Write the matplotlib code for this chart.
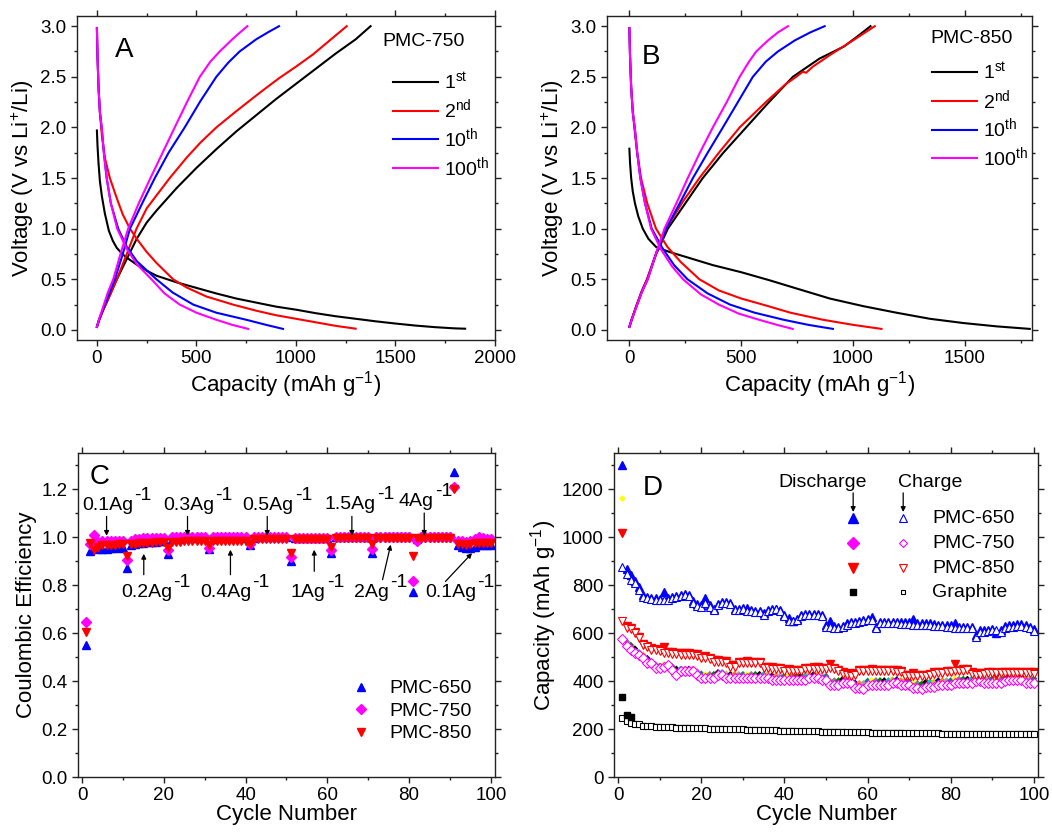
import matplotlib
matplotlib.use("Agg")
import matplotlib.pyplot as plt
from matplotlib.ticker import MultipleLocator
from matplotlib.lines import Line2D

plt.rcParams['font.family'] = ['Liberation Sans', 'DejaVu Sans']
plt.rcParams['mathtext.fontset'] = 'custom'
plt.rcParams['mathtext.rm'] = 'Liberation Sans'
plt.rcParams['mathtext.it'] = 'Liberation Sans:italic'
plt.rcParams['mathtext.default'] = 'regular'

# ---------------- Panel A (PMC-750) ----------------
a1_dis_x = [0, 3, 8, 15, 25, 40, 60, 80, 100, 130, 160, 200, 250, 300, 400, 500, 600, 700, 800, 900, 1000, 1100, 1200, 1300, 1400, 1500, 1600, 1700, 1800, 1850]
a1_dis_y = [1.97, 1.82, 1.65, 1.47, 1.32, 1.15, 0.98, 0.88, 0.81, 0.745, 0.70, 0.645, 0.585, 0.535, 0.47, 0.415, 0.36, 0.31, 0.27, 0.23, 0.20, 0.165, 0.135, 0.11, 0.085, 0.063, 0.043, 0.027, 0.015, 0.012]
a1_chg_x = [0, 10, 30, 60, 100, 150, 200, 250, 300, 400, 500, 600, 700, 800, 900, 1000, 1100, 1200, 1300, 1375]
a1_chg_y = [0.03, 0.09, 0.19, 0.32, 0.50, 0.70, 0.90, 1.06, 1.18, 1.40, 1.60, 1.785, 1.96, 2.12, 2.28, 2.43, 2.58, 2.73, 2.87, 3.0]
a2_dis_x = [0, 3, 8, 15, 25, 40, 65, 100, 130, 166, 200, 250, 300, 383, 450, 550, 684, 800, 900, 1000, 1100, 1200, 1300]
a2_dis_y = [2.98, 2.7, 2.4, 2.15, 1.92, 1.7, 1.5, 1.3, 1.14, 1.0, 0.9, 0.77, 0.66, 0.5, 0.42, 0.33, 0.25, 0.19, 0.145, 0.11, 0.075, 0.04, 0.012]
a2_chg_x = [0, 10, 30, 60, 100, 150, 199, 250, 300, 366, 450, 520, 600, 700, 784, 850, 918, 1000, 1085, 1170, 1255]
a2_chg_y = [0.03, 0.09, 0.19, 0.32, 0.5, 0.75, 1.0, 1.2, 1.33, 1.5, 1.7, 1.85, 2.0, 2.16, 2.29, 2.39, 2.49, 2.6, 2.72, 2.86, 3.0]
a10_dis_x = [0, 3, 8, 15, 24, 35, 49, 70, 107, 150, 200, 299, 380, 484, 600, 751, 850, 935]
a10_dis_y = [2.98, 2.7, 2.4, 2.15, 2.0, 1.75, 1.5, 1.25, 1.0, 0.82, 0.68, 0.5, 0.37, 0.25, 0.17, 0.1, 0.05, 0.01]
a10_chg_x = [0, 10, 30, 60, 90, 130, 166, 230, 291, 360, 441, 520, 600, 660, 717, 800, 860, 915]
a10_chg_y = [0.03, 0.1, 0.2, 0.35, 0.5, 0.75, 1.0, 1.26, 1.5, 1.75, 2.0, 2.26, 2.5, 2.64, 2.75, 2.87, 2.94, 3.0]
a100_dis_x = [0, 3, 8, 15, 24, 35, 49, 70, 102, 150, 200, 274, 340, 416, 500, 600, 680, 760]
a100_dis_y = [2.98, 2.7, 2.4, 2.15, 2.0, 1.75, 1.5, 1.25, 1.0, 0.8, 0.65, 0.5, 0.36, 0.25, 0.17, 0.1, 0.05, 0.01]
a100_chg_x = [0, 10, 30, 55, 82, 120, 157, 210, 269, 330, 391, 455, 517, 570, 617, 680, 720, 756]
a100_chg_y = [0.03, 0.1, 0.22, 0.37, 0.5, 0.76, 1.0, 1.25, 1.5, 1.75, 2.0, 2.26, 2.5, 2.65, 2.75, 2.87, 2.94, 3.0]

# ---------------- Panel B (PMC-850) ----------------
b1_dis_x = [0, 3, 8, 15, 25, 40, 60, 85, 119, 179, 254, 373, 500, 627, 746, 896, 1045, 1194, 1343, 1493, 1642, 1790]
b1_dis_y = [1.79, 1.65, 1.5, 1.37, 1.25, 1.12, 1.0, 0.9, 0.82, 0.77, 0.72, 0.64, 0.57, 0.49, 0.41, 0.31, 0.235, 0.17, 0.11, 0.068, 0.035, 0.01]
b1_chg_x = [0, 10, 30, 55, 79, 120, 172, 250, 328, 420, 522, 620, 731, 850, 960, 1020, 1078]
b1_chg_y = [0.03, 0.1, 0.23, 0.38, 0.5, 0.75, 1.0, 1.25, 1.5, 1.75, 2.0, 2.24, 2.5, 2.68, 2.8, 2.9, 3.0]
b2_dis_x = [0, 3, 8, 14, 22, 35, 52, 80, 119, 170, 230, 313, 400, 500, 597, 720, 866, 1000, 1127]
b2_dis_y = [2.98, 2.7, 2.4, 2.2, 2.0, 1.75, 1.5, 1.25, 1.0, 0.82, 0.67, 0.5, 0.39, 0.31, 0.25, 0.17, 0.1, 0.05, 0.01]
b2_chg_x = [0, 10, 30, 55, 79, 120, 164, 240, 313, 400, 493, 610, 700, 746, 775, 790, 820, 900, 1000, 1097]
b2_chg_y = [0.03, 0.1, 0.23, 0.38, 0.5, 0.76, 1.0, 1.27, 1.5, 1.75, 2.0, 2.25, 2.43, 2.5, 2.55, 2.54, 2.6, 2.72, 2.86, 3.0]
b10_dis_x = [0, 3, 8, 15, 24, 35, 49, 70, 100, 150, 200, 260, 350, 450, 560, 690, 800, 910]
b10_dis_y = [2.98, 2.7, 2.4, 2.15, 2.0, 1.75, 1.5, 1.25, 1.0, 0.8, 0.64, 0.5, 0.36, 0.25, 0.17, 0.1, 0.05, 0.01]
b10_chg_x = [0, 10, 30, 55, 82, 120, 164, 225, 284, 350, 418, 485, 552, 610, 664, 740, 810, 873]
b10_chg_y = [0.03, 0.1, 0.22, 0.37, 0.5, 0.76, 1.0, 1.25, 1.5, 1.75, 2.0, 2.25, 2.5, 2.65, 2.75, 2.86, 2.94, 3.0]
b100_dis_x = [0, 3, 8, 15, 24, 35, 49, 70, 97, 140, 190, 240, 320, 400, 490, 580, 660, 730]
b100_dis_y = [2.98, 2.7, 2.4, 2.15, 2.0, 1.75, 1.5, 1.25, 1.0, 0.8, 0.63, 0.5, 0.35, 0.25, 0.16, 0.1, 0.05, 0.01]
b100_chg_x = [0, 10, 30, 55, 82, 120, 157, 210, 261, 315, 373, 435, 493, 535, 567, 620, 665, 709]
b100_chg_y = [0.03, 0.1, 0.22, 0.37, 0.5, 0.76, 1.0, 1.25, 1.5, 1.75, 2.0, 2.25, 2.5, 2.65, 2.75, 2.86, 2.94, 3.0]

cycle_labels = ['1$^{st}$', '2$^{nd}$', '10$^{th}$', '100$^{th}$']
cycle_colors = ['black', '#ff0000', '#0000ff', '#ff00ff']

# ---------------- Panel C (Coulombic efficiency) ----------------
cycles = list(range(1, 101))
ce_650 = [0.55, 0.94, 0.955, 0.95, 0.95, 0.95, 0.955, 0.955, 0.96, 0.955,
          0.87, 0.965, 0.97, 0.975, 0.975, 0.98, 0.98, 0.98, 0.985, 0.985,
          0.93, 0.99, 0.99, 0.99, 0.995, 0.995, 0.995, 0.995, 0.995, 0.995,
          0.95, 0.99, 0.995, 0.995, 0.995, 0.995, 0.995, 0.995, 0.995, 0.995,
          0.965, 0.995, 1.0, 1.0, 1.0, 1.0, 1.0, 1.0, 1.0, 1.0,
          0.90, 0.995, 0.995, 0.995, 0.995, 0.995, 0.995, 0.995, 0.995, 0.995,
          0.935, 1.0, 1.0, 1.005, 1.0, 1.005, 1.0, 1.005, 1.0, 1.0,
          0.935, 1.005, 1.005, 1.005, 1.005, 1.005, 1.005, 1.005, 1.005, 1.005,
          0.77, 0.99, 1.005, 1.005, 1.005, 1.005, 1.005, 1.005, 1.005, 1.005,
          1.27, 0.965, 0.96, 0.955, 0.955, 0.96, 0.965, 0.965, 0.965, 0.965]
ce_750 = [0.645, 0.97, 1.01, 0.98, 0.985, 0.985, 0.985, 0.985, 0.985, 0.985,
          0.905, 0.985, 0.99, 0.99, 0.995, 0.995, 0.995, 0.995, 0.995, 0.995,
          0.945, 1.0, 1.0, 1.0, 1.0, 1.0, 1.0, 1.0, 1.0, 1.0,
          0.955, 1.0, 1.0, 1.0, 1.0, 1.0, 1.0, 1.0, 1.0, 1.0,
          0.97, 1.0, 1.0, 1.0, 1.0, 1.0, 1.0, 1.0, 1.0, 1.0,
          0.915, 0.995, 0.995, 0.995, 0.995, 0.995, 0.995, 0.995, 0.995, 0.995,
          0.945, 1.0, 1.0, 1.0, 1.0, 1.0, 1.0, 1.0, 1.0, 1.0,
          0.95, 1.0, 1.0, 1.0, 1.0, 1.0, 1.0, 1.0, 1.0, 1.0,
          0.815, 0.985, 1.0, 1.0, 1.0, 1.0, 1.0, 1.0, 1.0, 1.0,
          1.21, 0.985, 0.985, 0.98, 0.985, 0.99, 1.0, 0.995, 0.99, 0.99]
ce_850 = [0.605, 0.975, 0.945, 0.96, 0.965, 0.965, 0.965, 0.965, 0.97, 0.97,
          0.92, 0.97, 0.97, 0.975, 0.975, 0.975, 0.975, 0.98, 0.98, 0.98,
          0.955, 0.98, 0.98, 0.98, 0.985, 0.985, 0.985, 0.985, 0.985, 0.985,
          0.965, 0.985, 0.985, 0.985, 0.985, 0.985, 0.985, 0.985, 0.985, 0.985,
          0.97, 0.99, 0.99, 0.99, 0.99, 0.99, 0.99, 0.99, 0.99, 0.99,
          0.935, 0.99, 0.99, 0.99, 0.99, 0.99, 0.99, 0.99, 0.99, 0.99,
          0.96, 0.995, 0.995, 0.995, 0.995, 0.995, 0.995, 0.995, 0.995, 0.995,
          0.97, 0.995, 0.995, 0.995, 0.995, 0.995, 0.995, 0.995, 0.995, 0.995,
          0.92, 0.995, 0.995, 0.995, 0.995, 0.995, 0.995, 0.995, 0.995, 0.995,
          1.20, 0.97, 0.97, 0.965, 0.97, 0.975, 0.975, 0.975, 0.975, 0.975]

rate_top_labels = ['0.1Ag', '0.3Ag', '0.5Ag', '1.5Ag', '4Ag']
rate_top_pos = [(0.0, 1.13), (19.8, 1.13), (39.3, 1.13), (59.3, 1.134), (77.4, 1.148)]
rate_top_arrows = [(6.0, 1.086, 6.0, 1.005), (25.8, 1.086, 25.8, 1.005), (45.3, 1.086, 45.3, 1.005),
                   (66.0, 1.086, 66.0, 1.005), (83.7, 1.10, 83.7, 1.005)]
rate_bot_labels = ['0.2Ag', '0.4Ag', '1Ag', '2Ag', '0.1Ag']
rate_bot_pos = [(9.5, 0.767), (28.8, 0.767), (51.1, 0.767), (66.6, 0.767), (83.9, 0.767)]
rate_bot_arrows = [(15.1, 0.843, 15.1, 0.93), (36.3, 0.843, 36.3, 0.947), (56.8, 0.857, 56.8, 0.947),
                   (73.5, 0.822, 75.5, 0.968), (88.9, 0.815, 95.4, 0.933)]

# ---------------- Panel D (cycling capacity) ----------------
c650 = [877, 846, 821, 807, 780, 752, 745, 740, 738, 738,
        736, 738, 745, 750, 755, 758, 756, 724, 712, 708,
        727, 710, 696, 717, 724, 724, 720, 696, 696, 700,
        690, 690, 688, 686, 676, 692, 696, 698, 690, 669,
        648, 648, 655, 670, 676, 676, 676, 676, 672, 627,
        625, 622, 620, 625, 635, 641, 641, 645, 650, 655,
        655, 620, 641, 641, 641, 641, 641, 638, 638, 638,
        634, 634, 634, 634, 634, 630, 628, 628, 625, 625,
        620, 620, 620, 620, 620, 585, 606, 606, 608, 613,
        613, 606, 622, 627, 627, 630, 630, 627, 620, 610]
d650 = [1300, 868, 840, 815, 790, 760, 752, 746, 744, 742,
        770, 745, 750, 756, 760, 762, 760, 735, 720, 715,
        745, 716, 702, 720, 728, 728, 724, 702, 700, 704,
        705, 695, 692, 690, 682, 696, 700, 702, 696, 675,
        662, 652, 660, 674, 680, 680, 680, 680, 676, 632,
        650, 628, 625, 630, 640, 645, 645, 650, 655, 660,
        665, 626, 646, 646, 646, 646, 646, 644, 644, 644,
        660, 640, 640, 640, 640, 636, 634, 634, 632, 632,
        640, 626, 626, 626, 626, 592, 612, 612, 614, 618,
        600, 612, 628, 632, 632, 636, 636, 632, 626, 616]
c850 = [648, 620, 615, 600, 578, 548, 540, 530, 528, 525,
        516, 516, 514, 512, 510, 509, 509, 508, 505, 495,
        495, 490, 481, 481, 478, 476, 460, 460, 474, 474,
        474, 474, 474, 474, 454, 454, 452, 450, 448, 440,
        440, 440, 440, 440, 450, 450, 452, 452, 450, 450,
        454, 450, 440, 430, 426, 422, 426, 440, 440, 440,
        440, 440, 440, 440, 440, 440, 438, 436, 419, 419,
        419, 419, 419, 419, 425, 430, 433, 433, 436, 436,
        440, 440, 442, 445, 430, 426, 426, 428, 433, 433,
        433, 433, 433, 433, 433, 433, 433, 433, 433, 430]
d850 = [1016, 628, 620, 605, 585, 555, 546, 536, 533, 530,
        540, 522, 520, 518, 516, 515, 515, 514, 511, 502,
        505, 496, 487, 487, 484, 482, 468, 466, 480, 480,
        482, 480, 480, 480, 460, 460, 458, 456, 454, 446,
        452, 446, 446, 446, 456, 456, 458, 458, 456, 456,
        470, 456, 446, 436, 432, 428, 432, 446, 446, 446,
        452, 446, 446, 446, 446, 446, 444, 442, 425, 425,
        432, 425, 425, 425, 431, 436, 439, 439, 442, 442,
        470, 446, 448, 451, 436, 432, 432, 434, 439, 439,
        425, 438, 438, 438, 438, 438, 438, 438, 438, 436]
c750 = [576, 544, 530, 516, 509, 495, 474, 474, 454, 454,
        460, 468, 447, 426, 440, 440, 440, 440, 426, 412,
        412, 412, 412, 426, 426, 412, 412, 412, 412, 412,
        412, 412, 412, 412, 412, 412, 405, 405, 405, 405,
        405, 405, 405, 405, 405, 412, 412, 412, 405, 405,
        384, 384, 384, 391, 391, 391, 370, 370, 365, 384,
        384, 384, 384, 384, 384, 391, 391, 384, 384, 384,
        370, 370, 365, 377, 377, 377, 384, 384, 384, 384,
        391, 391, 391, 391, 391, 398, 398, 391, 391, 391,
        391, 391, 398, 405, 405, 405, 405, 391, 391, 391]
d750 = [1160, 565, 550, 535, 520, 510, 495, 480, 470, 462,
        470, 470, 460, 450, 450, 450, 450, 450, 440, 430,
        428, 428, 428, 436, 436, 430, 428, 428, 428, 428,
        428, 428, 428, 428, 428, 428, 422, 422, 422, 422,
        422, 422, 422, 422, 422, 428, 428, 426, 422, 420,
        400, 402, 402, 408, 408, 406, 392, 390, 390, 400,
        402, 402, 402, 402, 402, 406, 406, 402, 402, 402,
        392, 390, 388, 396, 396, 396, 402, 402, 402, 402,
        410, 408, 408, 408, 408, 414, 414, 410, 410, 410,
        406, 406, 412, 418, 418, 418, 418, 410, 410, 410]
cgr = [244, 235, 226, 221, 219, 214, 212, 211, 210, 209,
       208, 207, 207, 206, 206, 205, 205, 204, 204, 203,
       203, 202, 202, 201, 201, 200, 200, 199, 199, 198,
       197, 197, 196, 196, 195, 195, 194, 194, 193, 193,
       192, 192, 191, 191, 191, 190, 190, 190, 189, 189,
       189, 188, 188, 188, 187, 187, 187, 186, 186, 186,
       185, 185, 185, 185, 184, 184, 184, 184, 183, 183,
       183, 183, 182, 182, 182, 182, 182, 181, 181, 181,
       181, 181, 181, 180, 180, 180, 180, 180, 180, 180,
       180, 180, 180, 180, 180, 180, 180, 180, 180, 180]
dgr = [335, 260, 250, 224, 221, 216, 214, 213, 212, 211,
       210, 209, 209, 208, 208, 207, 207, 206, 206, 205,
       205, 204, 204, 203, 203, 202, 202, 201, 201, 200,
       199, 199, 198, 198, 197, 197, 196, 196, 195, 195,
       194, 194, 193, 193, 193, 192, 192, 192, 191, 191,
       191, 190, 190, 190, 189, 189, 189, 188, 188, 188,
       187, 187, 187, 187, 186, 186, 186, 186, 185, 185,
       185, 185, 184, 184, 184, 184, 184, 183, 183, 183,
       183, 183, 183, 182, 182, 182, 182, 182, 182, 182,
       182, 182, 182, 182, 182, 182, 182, 182, 182, 182]
d750_colors = ['#ffff00', '#808080', '#008000', '#000000', '#00c0c0', '#c8c800', '#000080', '#ff8000', '#a0a0a0', '#008080']

sample_names = ['PMC-650', 'PMC-750', 'PMC-850', 'Graphite']

TICK_FS = 13.5
LABEL_FS = 16
TXT_FS = 14
PANEL_FS = 20

fig = plt.figure(figsize=(10.52, 8.32), dpi=100)
axA = fig.add_axes([0.0732, 0.5913, 0.3973, 0.3894])
axB = fig.add_axes([0.5770, 0.5913, 0.4040, 0.3894])
axC = fig.add_axes([0.0741, 0.0661, 0.3964, 0.3894])
axD = fig.add_axes([0.5837, 0.0661, 0.4030, 0.3894])


def style(ax):
    for s in ax.spines.values():
        s.set_linewidth(1.0)
        s.set_color('#222222')
    ax.tick_params(which='both', direction='out', top=True, right=True,
                   labelsize=TICK_FS, width=1.0, color='#222222')
    ax.tick_params(which='major', length=4)
    ax.tick_params(which='minor', length=2.5)


# Panel A & B
def voltage_panel(ax, curves, xlim, name, letter, leg_anchor, name_pos, letter_pos):
    handles = []
    for (dx, dy, cx, cy), col, lab in zip(curves, cycle_colors, cycle_labels):
        ax.plot(dx, dy, color=col, lw=1.5)
        h, = ax.plot(cx, cy, color=col, lw=1.5, label=lab)
        handles.append(h)
    ax.set_xlim(*xlim)
    ax.set_ylim(-0.1, 3.1)
    ax.xaxis.set_major_locator(MultipleLocator(500))
    ax.xaxis.set_minor_locator(MultipleLocator(250))
    ax.yaxis.set_major_locator(MultipleLocator(0.5))
    ax.yaxis.set_minor_locator(MultipleLocator(0.25))
    ax.set_yticks([0, 0.5, 1.0, 1.5, 2.0, 2.5, 3.0])
    ax.set_yticklabels(['0.0', '0.5', '1.0', '1.5', '2.0', '2.5', '3.0'])
    style(ax)
    ax.set_xlabel('Capacity (mAh g$^{-1}$)', fontsize=LABEL_FS, labelpad=1)
    ax.set_ylabel('Voltage (V vs Li$^{+}$/Li)', fontsize=LABEL_FS, labelpad=3)
    ax.legend(handles=handles, loc='upper left', bbox_to_anchor=leg_anchor, frameon=False,
              fontsize=TXT_FS, handlelength=2.3, handletextpad=0.3, labelspacing=0.25,
              borderpad=0, borderaxespad=0)
    ax.text(name_pos[0], name_pos[1], name, transform=ax.transAxes, fontsize=TXT_FS,
            ha='left', va='center')
    ax.text(letter_pos[0], letter_pos[1], letter, transform=ax.transAxes, fontsize=PANEL_FS,
            ha='left', va='center')


curvesA = [(a1_dis_x, a1_dis_y, a1_chg_x, a1_chg_y), (a2_dis_x, a2_dis_y, a2_chg_x, a2_chg_y),
           (a10_dis_x, a10_dis_y, a10_chg_x, a10_chg_y), (a100_dis_x, a100_dis_y, a100_chg_x, a100_chg_y)]
curvesB = [(b1_dis_x, b1_dis_y, b1_chg_x, b1_chg_y), (b2_dis_x, b2_dis_y, b2_chg_x, b2_chg_y),
           (b10_dis_x, b10_dis_y, b10_chg_x, b10_chg_y), (b100_dis_x, b100_dis_y, b100_chg_x, b100_chg_y)]
voltage_panel(axA, curvesA, (-100, 2000), 'PMC-750', 'A', (0.756, 0.83), (0.73, 0.923), (0.091, 0.895))
voltage_panel(axB, curvesB, (-100, 1800), 'PMC-850', 'B', (0.765, 0.86), (0.76, 0.932), (0.082, 0.873))

# Panel C
axC.plot(cycles, ce_650, linestyle='none', marker='^', ms=6, color='#0000ff', mec='#0000ff', label='PMC-650')
axC.plot(cycles, ce_750, linestyle='none', marker='D', ms=5, color='#ff00ff', mec='#ff00ff', label='PMC-750')
axC.plot(cycles, ce_850, linestyle='none', marker='v', ms=6, color='#ff0000', mec='#ff0000', label='PMC-850')
axC.set_xlim(-1, 101)
axC.set_ylim(0, 1.35)
axC.xaxis.set_major_locator(MultipleLocator(20))
axC.xaxis.set_minor_locator(MultipleLocator(10))
axC.yaxis.set_major_locator(MultipleLocator(0.2))
axC.yaxis.set_minor_locator(MultipleLocator(0.1))
axC.set_yticks([0, 0.2, 0.4, 0.6, 0.8, 1.0, 1.2])
axC.set_yticklabels(['0.0', '0.2', '0.4', '0.6', '0.8', '1.0', '1.2'])
style(axC)
axC.set_xlabel('Cycle Number', fontsize=LABEL_FS, labelpad=0)
axC.set_ylabel('Coulombic Efficiency', fontsize=LABEL_FS, labelpad=3)
axC.legend(loc='upper left', bbox_to_anchor=(0.655, 0.30), frameon=False, fontsize=TXT_FS,
           handlelength=1.0, handletextpad=0.95, labelspacing=0.25, borderpad=0, borderaxespad=0)
axC.text(0.029, 0.926, 'C', transform=axC.transAxes, fontsize=PANEL_FS, ha='left', va='center')


def rate_label(ax, pos, base):
    t = ax.text(pos[0], pos[1], base, ha='left', va='center', fontsize=TXT_FS)
    ax.annotate('-1', xy=(1, 1.1), xycoords=t, xytext=(1, 0), textcoords='offset points',
                ha='left', va='center', fontsize=TXT_FS)


for lab, pos in zip(rate_top_labels + rate_bot_labels, rate_top_pos + rate_bot_pos):
    rate_label(axC, pos, lab)
for (x0, y0, x1, y1) in rate_top_arrows + rate_bot_arrows:
    axC.annotate('', xy=(x1, y1), xytext=(x0, y0),
                 arrowprops=dict(arrowstyle='-|>', color='black', lw=0.9, mutation_scale=7,
                                 shrinkA=0, shrinkB=0))

# Panel D
axD.plot(cycles, cgr, linestyle='none', marker='s', ms=5, mfc='white', mec='black', mew=0.8)
axD.plot(cycles[:3], dgr[:3], linestyle='none', marker='s', ms=5, color='black')
axD.plot(cycles[3:], dgr[3:], linestyle='none', marker='s', ms=3, color='#888888', zorder=1.5)
axD.scatter(cycles, d750, marker='D', s=12, c=[d750_colors[i % len(d750_colors)] for i in range(100)],
            linewidths=0, zorder=2)
axD.plot(cycles, c750, linestyle='none', marker='D', ms=5, mfc='white', mec='#ff00ff', mew=0.8, zorder=2.2)
axD.plot(cycles, d850, linestyle='none', marker='v', ms=6, color='#ff0000', zorder=2.3)
axD.plot(cycles, c850, linestyle='none', marker='v', ms=6, mfc='white', mec='#ff0000', mew=0.8, zorder=2.4)
axD.plot(cycles, d650, linestyle='none', marker='^', ms=6, color='#0000ff', zorder=2.5)
axD.plot(cycles, c650, linestyle='none', marker='^', ms=6, mfc='white', mec='#0000ff', mew=0.8, zorder=2.6)
axD.set_xlim(-1, 101)
axD.set_ylim(0, 1350)
axD.xaxis.set_major_locator(MultipleLocator(20))
axD.xaxis.set_minor_locator(MultipleLocator(10))
axD.yaxis.set_major_locator(MultipleLocator(200))
axD.yaxis.set_minor_locator(MultipleLocator(100))
axD.set_yticks([0, 200, 400, 600, 800, 1000, 1200])
style(axD)
axD.set_xlabel('Cycle Number', fontsize=LABEL_FS, labelpad=0)
axD.set_ylabel('Capacity (mAh g$^{-1}$)', fontsize=LABEL_FS, labelpad=2)
axD.text(0.068, 0.892, 'D', transform=axD.transAxes, fontsize=PANEL_FS, ha='left', va='center')

# custom two-column legend for D
axD.text(0.491, 0.910, 'Discharge', transform=axD.transAxes, fontsize=TXT_FS, ha='center', va='center')
axD.text(0.745, 0.910, 'Charge', transform=axD.transAxes, fontsize=TXT_FS, ha='center', va='center')
for xa in (0.564, 0.682):
    axD.annotate('', xy=(xa, 0.818), xytext=(xa, 0.877), xycoords='axes fraction',
                 arrowprops=dict(arrowstyle='-|>', color='black', lw=0.9, mutation_scale=7,
                                 shrinkA=0, shrinkB=0))
leg_rows = [0.799, 0.722, 0.645, 0.571]
leg_markers = ['^', 'D', 'v', 's']
leg_colors = ['#0000ff', '#ff00ff', '#ff0000', 'black']
leg_ms = [7.5, 6, 7, 5]
for yr, mk, col, ms, name in zip(leg_rows, leg_markers, leg_colors, leg_ms, sample_names):
    axD.add_line(Line2D([0.564], [yr], transform=axD.transAxes, marker=mk, ms=ms, color=col, linestyle='none'))
    axD.add_line(Line2D([0.682], [yr], transform=axD.transAxes, marker=mk, ms=ms - 1.5, mfc='white', mec=col,
                        mew=0.8, linestyle='none'))
    axD.text(0.75, yr, name, transform=axD.transAxes, fontsize=TXT_FS, ha='left', va='center')

fig.savefig('out.png', dpi=100)
